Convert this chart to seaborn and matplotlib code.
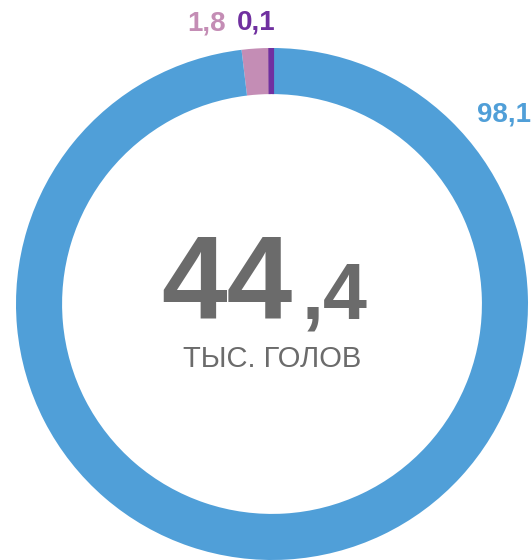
import numpy as np
import pandas as pd
import matplotlib
matplotlib.use('Agg')
import matplotlib.pyplot as plt
import matplotlib.patches as mpatches
import seaborn as sns

# данные
labels = ['0,1', '1,8', '98,1']
shares = [0.1, 1.8, 98.1]
colors = ['#7030a0', '#c48db5', '#509fd8']
total_int = '44'
total_dec = ',4'
unit = 'ТЫС. ГОЛОВ'

sns.set_theme(style='white')
plt.rcParams['font.family'] = ['Liberation Sans', 'DejaVu Sans']

fig = plt.figure(figsize=(5.31, 5.60), dpi=100)
W, H = 531, 560
cx, cy, R = 272, 304, 256
ax = fig.add_axes([(cx - R) / W, (H - cy - R) / H, 2 * R / W, 2 * R / H])

ring = 0.18
wedges, _ = ax.pie(shares, colors=colors, startangle=90, counterclock=True,
                   radius=1, wedgeprops=dict(width=ring, linewidth=0))
# самый тонкий сектор обводим, чтобы был виден, и обрезаем по кольцу
clip = mpatches.Wedge((0, 0), 1, 0, 360, width=ring, transform=ax.transData)
wedges[0].set_edgecolor(colors[0])
wedges[0].set_linewidth(3)
wedges[0].set_zorder(5)
wedges[0].set_clip_on(True)
wedges[0].set_clip_path(clip)
ax.set_xlim(-1, 1)
ax.set_ylim(-1, 1)
ax.set_aspect('equal')
ax.axis('off')

# подписи долей
pos = {'0,1': (-0.06, 1.10), '1,8': (-0.255, 1.095), '98,1': (0.905, 0.74)}
for lab, c in zip(labels, colors):
    ax.text(*pos[lab], lab, color=c, fontsize=20, fontweight='bold',
            ha='center', va='center', clip_on=False)

gray = '#6b6b6b'
ax.text(0.08, -0.055, total_int, color=gray, fontsize=85, fontweight='bold',
        ha='right', va='baseline')
ax.text(0.115, -0.055, total_dec, color=gray, fontsize=57, fontweight='bold',
        ha='left', va='baseline')
ax.text(0.0, -0.246, unit, color=gray, fontsize=21,
        ha='center', va='baseline')

fig.savefig('out.png', dpi=100)
